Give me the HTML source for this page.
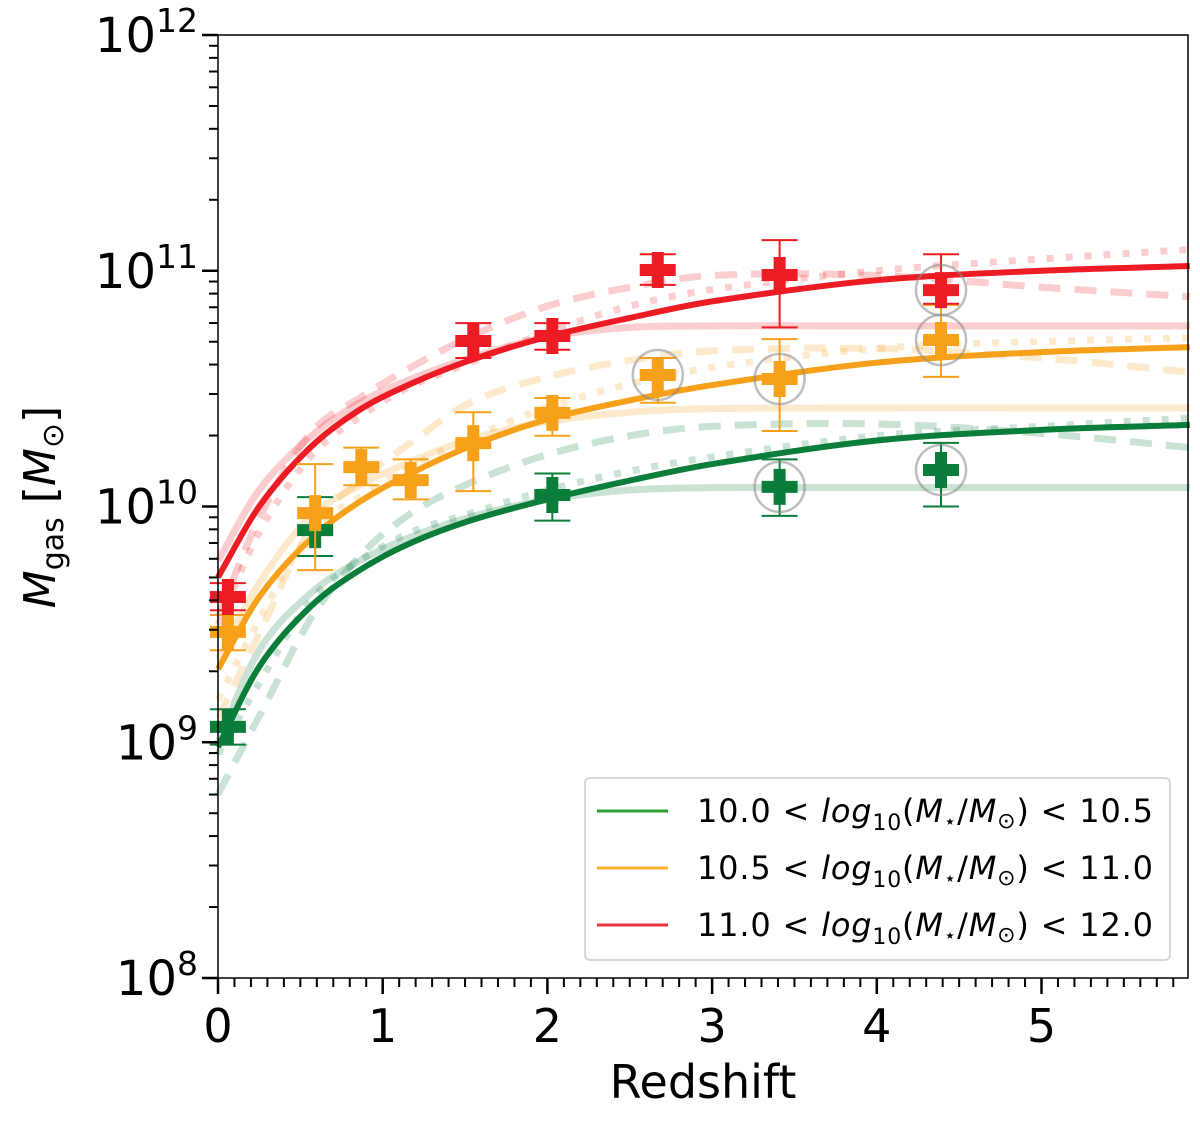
<!DOCTYPE html>
<html><head><meta charset="utf-8">
<style>
body{margin:0;background:#fff;}
svg{display:block;font-family:"DejaVu Sans","Liberation Sans",sans-serif;}
</style></head>
<body>
<svg id="chart" width="1200" height="1122" viewBox="0 0 1200 1122" xmlns="http://www.w3.org/2000/svg">
<g id="curves"></g>
<g id="points"></g>
<g id="axes"></g>
<g id="legend">
  <rect x="585" y="778" width="585" height="182" rx="5" fill="#fff" stroke="#cccccc" stroke-width="1.5"/>
  <line x1="597" y1="811" x2="668" y2="811" stroke="#2ca02c" stroke-width="3"/>
  <line x1="597" y1="868" x2="668" y2="868" stroke="#ffb02e" stroke-width="3"/>
  <line x1="597" y1="925" x2="668" y2="925" stroke="#e8303a" stroke-width="3"/>
  <text x="697" y="822" font-size="32" textLength="456" lengthAdjust="spacing">10.0 &lt; <tspan font-style="italic">log</tspan><tspan font-size="22" dy="8">10</tspan><tspan dy="-8">(<tspan font-style="italic">M</tspan><tspan font-size="20" dy="6">⋆</tspan><tspan dy="-6">/</tspan><tspan font-style="italic">M</tspan><tspan font-size="22" dy="6">⊙</tspan><tspan dy="-6">) &lt; 10.5</tspan></tspan></text>
  <text x="697" y="879" font-size="32" textLength="456" lengthAdjust="spacing">10.5 &lt; <tspan font-style="italic">log</tspan><tspan font-size="22" dy="8">10</tspan><tspan dy="-8">(<tspan font-style="italic">M</tspan><tspan font-size="20" dy="6">⋆</tspan><tspan dy="-6">/</tspan><tspan font-style="italic">M</tspan><tspan font-size="22" dy="6">⊙</tspan><tspan dy="-6">) &lt; 11.0</tspan></tspan></text>
  <text x="697" y="936" font-size="32" textLength="456" lengthAdjust="spacing">11.0 &lt; <tspan font-style="italic">log</tspan><tspan font-size="22" dy="8">10</tspan><tspan dy="-8">(<tspan font-style="italic">M</tspan><tspan font-size="20" dy="6">⋆</tspan><tspan dy="-6">/</tspan><tspan font-style="italic">M</tspan><tspan font-size="22" dy="6">⊙</tspan><tspan dy="-6">) &lt; 12.0</tspan></tspan></text>
</g>
<text x="703" y="1098" font-size="46" text-anchor="middle">Redshift</text>
<text transform="translate(55,507) rotate(-90)" font-size="44" text-anchor="middle"><tspan font-style="italic">M</tspan><tspan font-size="30" dy="8">gas</tspan><tspan dy="-8"> [</tspan><tspan font-style="italic">M</tspan><tspan font-size="30" dy="8">⊙</tspan><tspan dy="-8">]</tspan></text>
</svg>
<script>
// ---- data ----
const zSamples   = [0, 0.25, 0.56, 0.86, 1.17, 1.53, 2, 2.5, 3, 4, 5, 5.9];
const redMain    = [9.70, 10.00, 10.25, 10.41, 10.52, 10.62, 10.72, 10.80, 10.87, 10.96, 11.00, 11.02];
const redFlat    = [9.77, 10.07, 10.295, 10.44, 10.54, 10.63, 10.72, 10.76, 10.766, 10.766, 10.766, 10.766];
const redDash    = [9.53, 9.95, 10.31, 10.46, 10.59, 10.72, 10.85, 10.93, 10.98, 10.98, 10.93, 10.89];
const redDot     = [9.50, 9.89, 10.21, 10.38, 10.51, 10.61, 10.74, 10.85, 10.92, 11.00, 11.05, 11.09];
const orangeMain = [9.31, 9.616, 9.86, 10.02, 10.14, 10.255, 10.37, 10.45, 10.515, 10.61, 10.655, 10.676];
const orangeFlat = [9.35, 9.675, 9.955, 10.09, 10.19, 10.285, 10.36, 10.40, 10.415, 10.418, 10.418, 10.418];
const orangeDash = [9.10, 9.46, 9.90, 10.11, 10.27, 10.44, 10.55, 10.62, 10.66, 10.67, 10.63, 10.57];
const orangeDot  = [9.18, 9.52, 9.89, 10.04, 10.17, 10.29, 10.42, 10.52, 10.59, 10.67, 10.70, 10.715];
const greenMain  = [8.98, 9.32, 9.574, 9.73, 9.845, 9.94, 10.03, 10.11, 10.18, 10.28, 10.325, 10.346];
const greenFlat  = [9.00, 9.39, 9.63, 9.77, 9.87, 9.955, 10.03, 10.07, 10.08, 10.08, 10.08, 10.08];
const greenDash  = [8.78, 9.11, 9.52, 9.79, 9.97, 10.10, 10.22, 10.30, 10.34, 10.35, 10.31, 10.25];
const greenDot   = [8.95, 9.25, 9.60, 9.77, 9.89, 9.97, 10.07, 10.15, 10.21, 10.30, 10.34, 10.375];

const redZ   = [0.06, 1.55, 2.03, 2.67, 3.41, 4.39];
const redM   = [9.616, 10.702, 10.723, 11.003, 10.982, 10.918];
const redLo  = [9.56, 10.63, 10.665, 10.94, 10.76, 10.86];
const redHi  = [9.675, 10.778, 10.778, 11.07, 11.13, 11.07];
const redCirc= [0,0,0,0,0,1];
const orZ    = [0.06, 0.59, 0.87, 1.17, 1.55, 2.03, 2.67, 3.41, 4.39];
const orM    = [9.468, 9.972, 10.167, 10.112, 10.269, 10.397, 10.558, 10.541, 10.706];
const orLo   = [9.39, 9.73, 10.09, 10.03, 10.065, 10.30, 10.44, 10.32, 10.55];
const orHi   = [9.54, 10.18, 10.25, 10.20, 10.40, 10.46, 10.63, 10.71, 10.855];
const orCirc = [0,0,0,0,0,0,1,1,1];
const grZ    = [0.06, 0.59, 2.03, 3.41, 4.39];
const grM    = [9.065, 9.90, 10.049, 10.083, 10.155];
const grLo   = [8.99, 9.79, 9.94, 9.96, 10.00];
const grHi   = [9.14, 10.04, 10.14, 10.20, 10.27];
const grCirc = [0,0,0,1,1];

const xTicks = [0,1,2,3,4,5];
const yTicks = [8,9,10,11,12];

// ---- scales ----
const X0=218, X1=1188, Y0=978, Y1=35;
const xs = z => X0 + z*164.7;
const ys = l => Y0 - (l-8)*(Y0-Y1)/4;
const NS="http://www.w3.org/2000/svg";
function mk(tag, attrs, parent){const e=document.createElementNS(NS,tag);for(const k in attrs)e.setAttribute(k,attrs[k]);parent.appendChild(e);return e;}

const cv=document.getElementById('curves');
function curve(vals,color,w,op,dash,name){
  const P=zSamples.map((z,i)=>[xs(z),ys(vals[i])]);
  let d='M'+P[0][0]+','+P[0][1];
  for(let i=0;i<P.length-1;i++){
    const p0=P[Math.max(0,i-1)],p1=P[i],p2=P[i+1],p3=P[Math.min(P.length-1,i+2)];
    const t1=(p2[0]-p1[0])/(p2[0]-p0[0]||1), t2=(p2[0]-p1[0])/(p3[0]-p1[0]||1);
    const c1=[p1[0]+(p2[0]-p0[0])*t1/3,p1[1]+(p2[1]-p0[1])*t1/3];
    const c2=[p2[0]-(p3[0]-p1[0])*t2/3,p2[1]-(p3[1]-p1[1])*t2/3];
    d+=` C${c1[0]},${c1[1]} ${c2[0]},${c2[1]} ${p2[0]},${p2[1]}`;
  }
  const e=mk('path',{d:d,fill:'none',stroke:color,'stroke-width':w,'stroke-opacity':op},cv);
  if(dash)e.setAttribute('stroke-dasharray',dash);
  
  
}
const cR='#ed1c24', cO='#f7a11a', cG='#0a7d3a';
curve(greenFlat,cG,7,0.22,null,'green-flat-curve');
curve(greenDash,cG,7,0.22,'22,14','green-dashed-curve');
curve(greenDot,cG,7,0.22,'7,12','green-dotted-curve');
curve(orangeFlat,cO,7,0.22,null,'orange-flat-curve');
curve(orangeDash,cO,7,0.22,'22,14','orange-dashed-curve');
curve(orangeDot,cO,7,0.22,'7,12','orange-dotted-curve');
curve(redFlat,cR,7,0.22,null,'red-flat-curve');
curve(redDash,cR,7,0.22,'22,14','red-dashed-curve');
curve(redDot,cR,7,0.22,'7,12','red-dotted-curve');
curve(greenMain,cG,6,1,null,'green-main-curve');
curve(orangeMain,cO,6,1,null,'orange-main-curve');
curve(redMain,cR,6,1,null,'red-main-curve');

const pt=document.getElementById('points');
function series(Z,M,Lo,Hi,C,color,name){
  for(let i=0;i<Z.length;i++){
    const x=xs(Z[i]), y=ys(M[i]), yl=ys(Lo[i]), yh=ys(Hi[i]);
    const g=mk('g',{},pt);
    
    
    mk('line',{x1:x,y1:yl,x2:x,y2:yh,stroke:color,'stroke-width':2},g);
    mk('line',{x1:x-18,y1:yl,x2:x+18,y2:yl,stroke:color,'stroke-width':2},g);
    mk('line',{x1:x-18,y1:yh,x2:x+18,y2:yh,stroke:color,'stroke-width':2},g);
    mk('path',{d:`M${x-6},${y-18}h12v12h12v12h-12v12h-12v-12h-12v-12h12z`,fill:color},g);
    if(C[i]) mk('circle',{cx:x,cy:y,r:25,fill:'none',stroke:'#888','stroke-width':2.5,'stroke-opacity':0.55},g);
  }
}
series(grZ,grM,grLo,grHi,grCirc,cG,'green');
series(orZ,orM,orLo,orHi,orCirc,cO,'orange');
series(redZ,redM,redLo,redHi,redCirc,cR,'red');

// ---- axes ----
const ax=document.getElementById('axes');
const frame=mk('rect',{x:X0,y:Y1,width:X1-X0,height:Y0-Y1,fill:'none',stroke:'#000','stroke-width':1.5},ax);


for(let k=0;k<=59;k++){
  const z=k/10; const x=xs(z); if(x>X1) break;
  const major=(k%10===0);
  mk('line',{x1:x,y1:Y0,x2:x,y2:Y0+(major?16:9),stroke:'#000','stroke-width':major?2.5:2},ax);
}
xTicks.forEach(t=>{
  const e=mk('text',{x:xs(t),y:1042,'font-size':46,'text-anchor':'middle'},ax);
  e.textContent=t;
  
  
});
for(let dec=8;dec<12;dec++){
  for(let m=1;m<10;m++){
    const y=ys(dec+Math.log10(m));
    const major=(m===1);
    mk('line',{x1:X0,y1:y,x2:X0-(major?16:9),y2:y,stroke:'#000','stroke-width':major?2.5:2},ax);
  }
}
mk('line',{x1:X0,y1:Y1,x2:X0-16,y2:Y1,stroke:'#000','stroke-width':2.5},ax);
yTicks.forEach(t=>{
  const e=mk('text',{x:198,y:ys(t)+17,'font-size':48,'text-anchor':'end'},ax);
  
  
  const a=mk('tspan',{},e); a.textContent='10';
  const b=mk('tspan',{dy:-20,'font-size':33},e); b.textContent=t;
});
</script>
</body></html>
